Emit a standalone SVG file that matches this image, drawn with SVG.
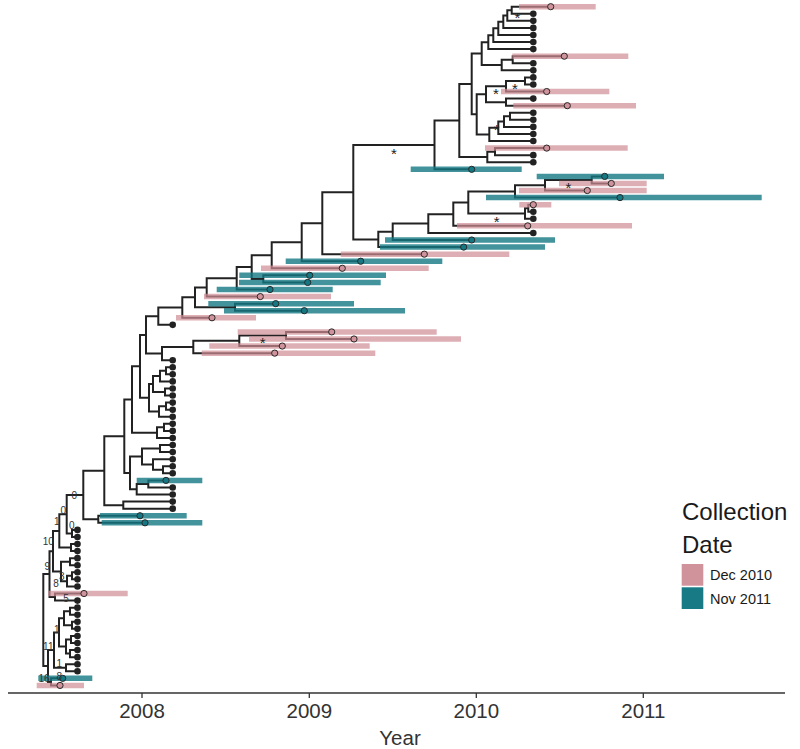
<svg xmlns="http://www.w3.org/2000/svg" width="800" height="749" viewBox="0 0 800 749">
<style>
.e{fill:none;stroke:#222;stroke-width:2}
.bp{stroke:#cf8d96;stroke-opacity:0.7;stroke-width:5.5}
.bt{stroke:#137883;stroke-opacity:0.8;stroke-width:5.5}
.cp{fill:#d0929b;stroke:#2a2a2a;stroke-width:1}
.ct{fill:#137883;stroke:#2a2a2a;stroke-width:1}
.cb{fill:#222}
.lab{font-family:"Liberation Sans",Arial,sans-serif;font-size:10px;fill:#333;text-anchor:middle}
.star{font-family:"Liberation Sans",Arial,sans-serif;font-size:15px;fill:#222;text-anchor:middle}
.ax{font-family:"Liberation Sans",Arial,sans-serif;font-size:20.5px;fill:#333;text-anchor:middle}
.lg{font-family:"Liberation Sans",Arial,sans-serif;fill:#1a1a1a}
</style>
<rect width="800" height="749" fill="#fff"/>
<g id="connectors">
<path class="e" d="M550.7 6.7H511.7V13.77H533.3"/>
<path class="e" d="M511.7 10.24H507.3V20.84H533.3"/>
<path class="e" d="M507.3 15.54H503.3V27.91H533.3"/>
<path class="e" d="M503.3 21.73H498.3V34.98H533.3"/>
<path class="e" d="M498.3 28.35H493.3V42.05H533.3"/>
<path class="e" d="M493.3 35.2H488.3V49.12H533.3"/>
<path class="e" d="M564.3 56.19H512.7V63.26H533.3"/>
<path class="e" d="M512.7 59.73H501.7V70.33H533.3"/>
<path class="e" d="M488.3 42.16H481.7V65.03H501.7"/>
<path class="e" d="M533.3 77.4H525V84.47H533.3"/>
<path class="e" d="M525 80.94H506V91.54H546.7"/>
<path class="e" d="M533.3 98.61H506V105.68H567.3"/>
<path class="e" d="M506 86.24H486V102.15H506"/>
<path class="e" d="M533.3 112.75H510V119.82H533.3"/>
<path class="e" d="M510 116.29H504V126.89H533.3"/>
<path class="e" d="M504 121.59H498.3V133.96H533.3"/>
<path class="e" d="M498.3 127.78H489.3V141.03H533.3"/>
<path class="e" d="M486 94.2H476.7V134.4H489.3"/>
<path class="e" d="M481.7 53.6H471.7V114.3H476.7"/>
<path class="e" d="M546.7 148.1H495V155.17H533.3"/>
<path class="e" d="M495 151.64H487.3V162.24H533.3"/>
<path class="e" d="M471.7 83.95H459.3V156.94H487.3"/>
<path class="e" d="M459.3 120.45H434.5V169.31H471.7"/>
<path class="e" d="M604.7 176.38H591.7V183.45H611.3"/>
<path class="e" d="M591.7 179.92H545V190.52H587.3"/>
<path class="e" d="M545 185.22H515V197.59H620"/>
<path class="e" d="M533.3 204.66H528.3V211.73H533.3"/>
<path class="e" d="M528.3 208.2H525V218.8H533.3"/>
<path class="e" d="M515 191.4H468.3V213.5H525"/>
<path class="e" d="M468.3 202.45H453.3V225.87H527.7"/>
<path class="e" d="M453.3 214.16H428.3V232.94H533.3"/>
<path class="e" d="M428.3 223.55H392.7V240.01H471.7"/>
<path class="e" d="M392.7 231.78H378.3V247.08H463.7"/>
<path class="e" d="M434.5 144.88H353.3V239.43H378.3"/>
<path class="e" d="M353.3 192.16H322.3V254.15H424.3"/>
<path class="e" d="M322.3 223.16H301.7V261.22H360.7"/>
<path class="e" d="M301.7 242.19H271.7V268.29H342.3"/>
<path class="e" d="M309.7 275.36H263.3V282.43H307.7"/>
<path class="e" d="M271.7 255.24H251.7V278.9H263.3"/>
<path class="e" d="M251.7 267.07H236.7V289.5H270"/>
<path class="e" d="M236.7 278.29H206.7V296.57H260.3"/>
<path class="e" d="M275.7 303.64H235V310.71H304.3"/>
<path class="e" d="M206.7 287.43H195V307.18H235"/>
<path class="e" d="M195 297.3H182.3V317.78H212"/>
<path class="e" d="M182.3 307.54H158.3V324.85H172.7"/>
<path class="e" d="M331.7 331.92H286V338.99H354"/>
<path class="e" d="M286 335.46H239.3V346.06H282.3"/>
<path class="e" d="M239.3 340.76H193.3V353.13H274.7"/>
<path class="e" d="M193.3 346.95H162V360.2H172.7"/>
<path class="e" d="M158.3 316.2H146V353.57H162"/>
<path class="e" d="M172.7 367.27H166V374.34H172.7"/>
<path class="e" d="M166 370.8H160V381.41H172.7"/>
<path class="e" d="M172.7 388.48H165V395.55H172.7"/>
<path class="e" d="M160 376.1H153V392.02H165"/>
<path class="e" d="M172.7 402.62H166V409.69H172.7"/>
<path class="e" d="M166 406.16H159V416.76H172.7"/>
<path class="e" d="M153 384.06H149V411.46H159"/>
<path class="e" d="M146 334.89H140V397.76H149"/>
<path class="e" d="M172.7 423.83H164V430.9H172.7"/>
<path class="e" d="M164 427.37H157V437.97H172.7"/>
<path class="e" d="M140 366.33H132V432.67H157"/>
<path class="e" d="M172.7 445.04H160V452.11H172.7"/>
<path class="e" d="M172.7 466.25H163V473.32H172.7"/>
<path class="e" d="M172.7 459.18H153V469.79H163"/>
<path class="e" d="M160 448.58H142V464.49H153"/>
<path class="e" d="M166 480.39H148.3V487.46H172.7"/>
<path class="e" d="M148.3 483.93H136.7V494.53H172.7"/>
<path class="e" d="M142 456.54H130V489.23H136.7"/>
<path class="e" d="M132 399.5H124.3V472.89H130"/>
<path class="e" d="M172.7 501.6H123.3V508.67H172.7"/>
<path class="e" d="M124.3 436.2H104.3V505.14H123.3"/>
<path class="e" d="M140 515.74H98.3V522.81H145"/>
<path class="e" d="M104.3 470.67H83.3V519.28H98.3"/>
<path class="e" d="M77.5 529.88H72V536.95H77.5"/>
<path class="e" d="M83.3 494.98H66.7V533.42H72"/>
<path class="e" d="M77.5 544.02H71V551.09H77.5"/>
<path class="e" d="M66.7 514.2H59.3V547.56H71"/>
<path class="e" d="M77.5 558.16H70V565.23H77.5"/>
<path class="e" d="M77.5 572.3H72V579.37H77.5"/>
<path class="e" d="M72 575.84H67V586.44H77.5"/>
<path class="e" d="M70 561.7H61V581.14H67"/>
<path class="e" d="M59.3 530.88H53V571.42H61"/>
<path class="e" d="M84 593.51H55V600.58H77.5"/>
<path class="e" d="M53 551.15H49.5V597.05H55"/>
<path class="e" d="M77.5 607.65H70V614.72H77.5"/>
<path class="e" d="M77.5 621.79H72V628.86H77.5"/>
<path class="e" d="M70 611.19H64V625.33H72"/>
<path class="e" d="M77.5 635.93H71V643H77.5"/>
<path class="e" d="M77.5 650.07H70V657.14H77.5"/>
<path class="e" d="M71 639.47H66V653.61H70"/>
<path class="e" d="M64 618.26H59V646.54H66"/>
<path class="e" d="M77.5 664.21H66V671.28H77.5"/>
<path class="e" d="M59 632.4H54V667.75H66"/>
<path class="e" d="M62.7 678.35H51V685.42H60"/>
<path class="e" d="M54 650.08H48V681.89H51"/>
<path class="e" d="M49.5 574.1H43.3V665.99H48"/>
</g>
<g id="tips">
<g id="tip-0"><line class="bp" x1="519" y1="6.7" x2="595.7" y2="6.7"/><circle class="cp" cx="550.7" cy="6.7" r="3.1"/></g>
<g id="tip-1"><circle class="cb" cx="533.3" cy="13.77" r="3.3"/></g>
<g id="tip-2"><circle class="cb" cx="533.3" cy="20.84" r="3.3"/></g>
<g id="tip-3"><circle class="cb" cx="533.3" cy="27.91" r="3.3"/></g>
<g id="tip-4"><circle class="cb" cx="533.3" cy="34.98" r="3.3"/></g>
<g id="tip-5"><circle class="cb" cx="533.3" cy="42.05" r="3.3"/></g>
<g id="tip-6"><circle class="cb" cx="533.3" cy="49.12" r="3.3"/></g>
<g id="tip-7"><line class="bp" x1="512.3" y1="56.19" x2="628.3" y2="56.19"/><circle class="cp" cx="564.3" cy="56.19" r="3.1"/></g>
<g id="tip-8"><circle class="cb" cx="533.3" cy="63.26" r="3.3"/></g>
<g id="tip-9"><circle class="cb" cx="533.3" cy="70.33" r="3.3"/></g>
<g id="tip-10"><circle class="cb" cx="533.3" cy="77.4" r="3.3"/></g>
<g id="tip-11"><circle class="cb" cx="533.3" cy="84.47" r="3.3"/></g>
<g id="tip-12"><line class="bp" x1="501" y1="91.54" x2="609.3" y2="91.54"/><circle class="cp" cx="546.7" cy="91.54" r="3.1"/></g>
<g id="tip-13"><circle class="cb" cx="533.3" cy="98.61" r="3.3"/></g>
<g id="tip-14"><line class="bp" x1="513.3" y1="105.68" x2="636" y2="105.68"/><circle class="cp" cx="567.3" cy="105.68" r="3.1"/></g>
<g id="tip-15"><circle class="cb" cx="533.3" cy="112.75" r="3.3"/></g>
<g id="tip-16"><circle class="cb" cx="533.3" cy="119.82" r="3.3"/></g>
<g id="tip-17"><circle class="cb" cx="533.3" cy="126.89" r="3.3"/></g>
<g id="tip-18"><circle class="cb" cx="533.3" cy="133.96" r="3.3"/></g>
<g id="tip-19"><circle class="cb" cx="533.3" cy="141.03" r="3.3"/></g>
<g id="tip-20"><line class="bp" x1="485" y1="148.1" x2="627.7" y2="148.1"/><circle class="cp" cx="546.7" cy="148.1" r="3.1"/></g>
<g id="tip-21"><circle class="cb" cx="533.3" cy="155.17" r="3.3"/></g>
<g id="tip-22"><circle class="cb" cx="533.3" cy="162.24" r="3.3"/></g>
<g id="tip-23"><line class="bt" x1="410.7" y1="169.31" x2="521.7" y2="169.31"/><circle class="ct" cx="471.7" cy="169.31" r="3.1"/></g>
<g id="tip-24"><line class="bt" x1="536.7" y1="176.38" x2="664" y2="176.38"/><circle class="ct" cx="604.7" cy="176.38" r="3.1"/></g>
<g id="tip-25"><line class="bp" x1="559" y1="183.45" x2="646.7" y2="183.45"/><circle class="cp" cx="611.3" cy="183.45" r="3.1"/></g>
<g id="tip-26"><line class="bp" x1="519" y1="190.52" x2="646.7" y2="190.52"/><circle class="cp" cx="587.3" cy="190.52" r="3.1"/></g>
<g id="tip-27"><line class="bt" x1="486" y1="197.59" x2="761.7" y2="197.59"/><circle class="ct" cx="620" cy="197.59" r="3.1"/></g>
<g id="tip-28"><line class="bp" x1="519.3" y1="204.66" x2="551.3" y2="204.66"/><circle class="cp" cx="533.3" cy="204.66" r="3.1"/></g>
<g id="tip-29"><circle class="cb" cx="533.3" cy="211.73" r="3.3"/></g>
<g id="tip-30"><circle class="cb" cx="533.3" cy="218.8" r="3.3"/></g>
<g id="tip-31"><line class="bp" x1="457" y1="225.87" x2="632" y2="225.87"/><circle class="cp" cx="527.7" cy="225.87" r="3.1"/></g>
<g id="tip-32"><circle class="cb" cx="533.3" cy="232.94" r="3.3"/></g>
<g id="tip-33"><line class="bt" x1="385" y1="240.01" x2="555" y2="240.01"/><circle class="ct" cx="471.7" cy="240.01" r="3.1"/></g>
<g id="tip-34"><line class="bt" x1="380" y1="247.08" x2="545" y2="247.08"/><circle class="ct" cx="463.7" cy="247.08" r="3.1"/></g>
<g id="tip-35"><line class="bp" x1="340.7" y1="254.15" x2="509.3" y2="254.15"/><circle class="cp" cx="424.3" cy="254.15" r="3.1"/></g>
<g id="tip-36"><line class="bt" x1="285.7" y1="261.22" x2="442.3" y2="261.22"/><circle class="ct" cx="360.7" cy="261.22" r="3.1"/></g>
<g id="tip-37"><line class="bp" x1="261" y1="268.29" x2="428.7" y2="268.29"/><circle class="cp" cx="342.3" cy="268.29" r="3.1"/></g>
<g id="tip-38"><line class="bt" x1="239.3" y1="275.36" x2="386" y2="275.36"/><circle class="ct" cx="309.7" cy="275.36" r="3.1"/></g>
<g id="tip-39"><line class="bt" x1="239" y1="282.43" x2="380.7" y2="282.43"/><circle class="ct" cx="307.7" cy="282.43" r="3.1"/></g>
<g id="tip-40"><line class="bt" x1="216.7" y1="289.5" x2="332.7" y2="289.5"/><circle class="ct" cx="270" cy="289.5" r="3.1"/></g>
<g id="tip-41"><line class="bp" x1="204" y1="296.57" x2="331" y2="296.57"/><circle class="cp" cx="260.3" cy="296.57" r="3.1"/></g>
<g id="tip-42"><line class="bt" x1="208.3" y1="303.64" x2="354" y2="303.64"/><circle class="ct" cx="275.7" cy="303.64" r="3.1"/></g>
<g id="tip-43"><line class="bt" x1="224" y1="310.71" x2="405" y2="310.71"/><circle class="ct" cx="304.3" cy="310.71" r="3.1"/></g>
<g id="tip-44"><line class="bp" x1="176" y1="317.78" x2="256" y2="317.78"/><circle class="cp" cx="212" cy="317.78" r="3.1"/></g>
<g id="tip-45"><circle class="cb" cx="172.7" cy="324.85" r="3.3"/></g>
<g id="tip-46"><line class="bp" x1="237.7" y1="331.92" x2="436.7" y2="331.92"/><circle class="cp" cx="331.7" cy="331.92" r="3.1"/></g>
<g id="tip-47"><line class="bp" x1="249" y1="338.99" x2="461" y2="338.99"/><circle class="cp" cx="354" cy="338.99" r="3.1"/></g>
<g id="tip-48"><line class="bp" x1="209.3" y1="346.06" x2="369.7" y2="346.06"/><circle class="cp" cx="282.3" cy="346.06" r="3.1"/></g>
<g id="tip-49"><line class="bp" x1="201.7" y1="353.13" x2="375.3" y2="353.13"/><circle class="cp" cx="274.7" cy="353.13" r="3.1"/></g>
<g id="tip-50"><circle class="cb" cx="172.7" cy="360.2" r="3.3"/></g>
<g id="tip-51"><circle class="cb" cx="172.7" cy="367.27" r="3.3"/></g>
<g id="tip-52"><circle class="cb" cx="172.7" cy="374.34" r="3.3"/></g>
<g id="tip-53"><circle class="cb" cx="172.7" cy="381.41" r="3.3"/></g>
<g id="tip-54"><circle class="cb" cx="172.7" cy="388.48" r="3.3"/></g>
<g id="tip-55"><circle class="cb" cx="172.7" cy="395.55" r="3.3"/></g>
<g id="tip-56"><circle class="cb" cx="172.7" cy="402.62" r="3.3"/></g>
<g id="tip-57"><circle class="cb" cx="172.7" cy="409.69" r="3.3"/></g>
<g id="tip-58"><circle class="cb" cx="172.7" cy="416.76" r="3.3"/></g>
<g id="tip-59"><circle class="cb" cx="172.7" cy="423.83" r="3.3"/></g>
<g id="tip-60"><circle class="cb" cx="172.7" cy="430.9" r="3.3"/></g>
<g id="tip-61"><circle class="cb" cx="172.7" cy="437.97" r="3.3"/></g>
<g id="tip-62"><circle class="cb" cx="172.7" cy="445.04" r="3.3"/></g>
<g id="tip-63"><circle class="cb" cx="172.7" cy="452.11" r="3.3"/></g>
<g id="tip-64"><circle class="cb" cx="172.7" cy="459.18" r="3.3"/></g>
<g id="tip-65"><circle class="cb" cx="172.7" cy="466.25" r="3.3"/></g>
<g id="tip-66"><circle class="cb" cx="172.7" cy="473.32" r="3.3"/></g>
<g id="tip-67"><line class="bt" x1="136.7" y1="480.39" x2="202.3" y2="480.39"/><circle class="ct" cx="166" cy="480.39" r="3.1"/></g>
<g id="tip-68"><circle class="cb" cx="172.7" cy="487.46" r="3.3"/></g>
<g id="tip-69"><circle class="cb" cx="172.7" cy="494.53" r="3.3"/></g>
<g id="tip-70"><circle class="cb" cx="172.7" cy="501.6" r="3.3"/></g>
<g id="tip-71"><circle class="cb" cx="172.7" cy="508.67" r="3.3"/></g>
<g id="tip-72"><line class="bt" x1="100" y1="515.74" x2="186.7" y2="515.74"/><circle class="ct" cx="140" cy="515.74" r="3.1"/></g>
<g id="tip-73"><line class="bt" x1="101.7" y1="522.81" x2="202.3" y2="522.81"/><circle class="ct" cx="145" cy="522.81" r="3.1"/></g>
<g id="tip-74"><circle class="cb" cx="77.5" cy="529.88" r="3.3"/></g>
<g id="tip-75"><circle class="cb" cx="77.5" cy="536.95" r="3.3"/></g>
<g id="tip-76"><circle class="cb" cx="77.5" cy="544.02" r="3.3"/></g>
<g id="tip-77"><circle class="cb" cx="77.5" cy="551.09" r="3.3"/></g>
<g id="tip-78"><circle class="cb" cx="77.5" cy="558.16" r="3.3"/></g>
<g id="tip-79"><circle class="cb" cx="77.5" cy="565.23" r="3.3"/></g>
<g id="tip-80"><circle class="cb" cx="77.5" cy="572.3" r="3.3"/></g>
<g id="tip-81"><circle class="cb" cx="77.5" cy="579.37" r="3.3"/></g>
<g id="tip-82"><circle class="cb" cx="77.5" cy="586.44" r="3.3"/></g>
<g id="tip-83"><line class="bp" x1="48.3" y1="593.51" x2="127.7" y2="593.51"/><circle class="cp" cx="84" cy="593.51" r="3.1"/></g>
<g id="tip-84"><circle class="cb" cx="77.5" cy="600.58" r="3.3"/></g>
<g id="tip-85"><circle class="cb" cx="77.5" cy="607.65" r="3.3"/></g>
<g id="tip-86"><circle class="cb" cx="77.5" cy="614.72" r="3.3"/></g>
<g id="tip-87"><circle class="cb" cx="77.5" cy="621.79" r="3.3"/></g>
<g id="tip-88"><circle class="cb" cx="77.5" cy="628.86" r="3.3"/></g>
<g id="tip-89"><circle class="cb" cx="77.5" cy="635.93" r="3.3"/></g>
<g id="tip-90"><circle class="cb" cx="77.5" cy="643" r="3.3"/></g>
<g id="tip-91"><circle class="cb" cx="77.5" cy="650.07" r="3.3"/></g>
<g id="tip-92"><circle class="cb" cx="77.5" cy="657.14" r="3.3"/></g>
<g id="tip-93"><circle class="cb" cx="77.5" cy="664.21" r="3.3"/></g>
<g id="tip-94"><circle class="cb" cx="77.5" cy="671.28" r="3.3"/></g>
<g id="tip-95"><line class="bt" x1="38.3" y1="678.35" x2="92.3" y2="678.35"/><circle class="ct" cx="62.7" cy="678.35" r="3.1"/></g>
<g id="tip-96"><line class="bp" x1="36.7" y1="685.42" x2="84" y2="685.42"/><circle class="cp" cx="60" cy="685.42" r="3.1"/></g>
</g>
<g id="node-labels">
<text class="star" x="517.3" y="22.7">*</text>
<text class="star" x="515" y="94.4">*</text>
<text class="star" x="496" y="98.7">*</text>
<text class="star" x="496.7" y="134.7">*</text>
<text class="star" x="394" y="158.5">*</text>
<text class="star" x="568.3" y="192.7">*</text>
<text class="star" x="496.7" y="227">*</text>
<text class="star" x="262.7" y="348">*</text>
<text class="lab" x="74.3" y="498.6">0</text>
<text class="lab" x="63.3" y="514.3">0</text>
<text class="lab" x="56.7" y="525.3">1</text>
<text class="lab" x="71.7" y="528.6">0</text>
<text class="lab" x="48.3" y="545.3">10</text>
<text class="lab" x="47.3" y="569.6">9</text>
<text class="lab" x="61.7" y="580.3">3</text>
<text class="lab" x="56" y="586.9">8</text>
<text class="lab" x="66" y="601.9">5</text>
<text class="lab" x="56.7" y="632.6">1</text>
<text class="lab" x="48.3" y="650.3">11</text>
<text class="lab" x="59.3" y="666.9">1</text>
<text class="lab" x="44" y="681.9">16</text>
<text class="lab" x="59.3" y="679.6">8</text>
</g>
<g id="axis">
<path d="M8 693H785" stroke="#333" stroke-width="1.3" fill="none"/>
<path d="M142 693V698M309.3 693V698M476.3 693V698M643.3 693V698" stroke="#333" stroke-width="1.3" fill="none"/>
<text class="ax" x="142" y="718.3">2008</text>
<text class="ax" x="309.3" y="718.3">2009</text>
<text class="ax" x="476.3" y="718.3">2010</text>
<text class="ax" x="643.3" y="718.3">2011</text>
<text class="ax" x="400" y="745">Year</text>
</g>
<g id="legend">
<text class="lg" x="682" y="520" font-size="24">Collection</text>
<text class="lg" x="682" y="553" font-size="24">Date</text>
<rect x="681.7" y="564" width="21.6" height="21.7" fill="#d0929b"/>
<rect x="681.7" y="587.3" width="21.6" height="21.7" fill="#177a85"/>
<text class="lg" x="710" y="580" font-size="14.5">Dec 2010</text>
<text class="lg" x="710" y="603.5" font-size="14.5">Nov 2011</text>
</g>
</svg>
